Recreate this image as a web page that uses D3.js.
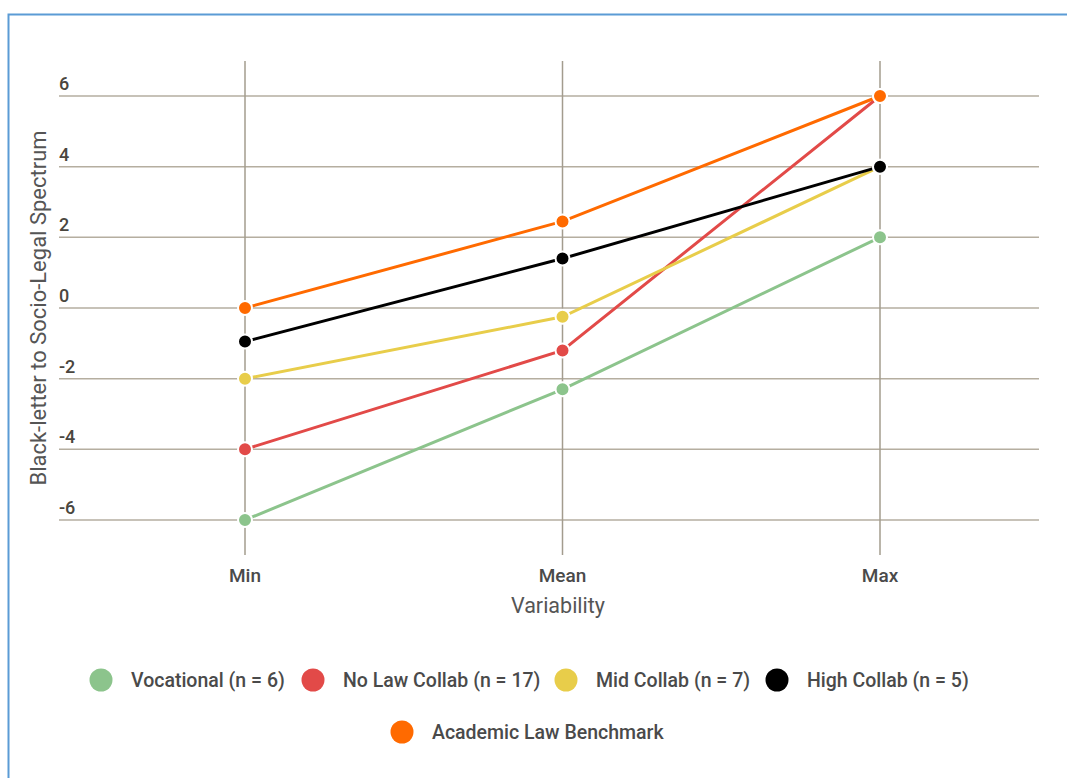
<!DOCTYPE html>
<html><head><meta charset="utf-8">
<script src="https://cdn.jsdelivr.net/npm/d3@7"></script>
<style>body{margin:0;background:#fff;font-family:Roboto,"Noto Sans",sans-serif;}</style>
</head><body><svg id="c" width="1067" height="778"></svg>
<script>
const categories = ["Min", "Mean", "Max"];
const seriesNames = ["Vocational (n = 6)", "No Law Collab (n = 17)", "Mid Collab (n = 7)", "High Collab (n = 5)", "Academic Law Benchmark"];
const seriesColors = ["#8cc48c", "#e24a48", "#e8cd4a", "#000000", "#ff6a00"];
const vocational = [-6, -2.3, 2];
const noLawCollab = [-4, -1.2, 6];
const midCollab = [-2, -0.25, 4];
const highCollab = [-0.95, 1.4, 4];
const academicBenchmark = [0, 2.45, 6];
const yTicks = [-6, -4, -2, 0, 2, 4, 6];
const seriesValues = [vocational, noLawCollab, midCollab, highCollab, academicBenchmark];
const drawOrder = [0, 1, 2, 3, 4];

const svg = d3.select("#c");
svg.append("path").attr("d","M8.5,778 L8.5,14.5 L1067,14.5").attr("fill","none").attr("stroke","#5b9bd5").attr("stroke-width",2);

const x = d3.scalePoint().domain(categories).range([245, 880]);
const y = d3.scaleLinear().domain([-6, 6]).range([520, 96]);

const grid = svg.append("g");
grid.selectAll("line.h").data(yTicks).join("line")
  .attr("x1", 59).attr("x2", 1039)
  .attr("y1", d => y(d)).attr("y2", d => y(d))
  .attr("stroke", "#b5aea0").attr("stroke-width", 1.5);
grid.selectAll("line.v").data(categories).join("line")
  .attr("x1", d => x(d)).attr("x2", d => x(d))
  .attr("y1", 61).attr("y2", 555)
  .attr("stroke", "#a39c8e").attr("stroke-width", 1.5);

svg.append("g").selectAll("text").data(yTicks).join("text")
  .attr("x", 59).attr("y", d => y(d) - 6)
  .attr("font-size", 18).attr("font-weight", 500).attr("fill", "#4a463e")
  .text(d => d);

svg.append("g").selectAll("text").data(categories).join("text")
  .attr("x", d => x(d)).attr("y", 582).attr("text-anchor", "middle")
  .attr("font-size", 19).attr("font-weight", 500).attr("fill", "#4a4a4a")
  .text(d => d);

svg.append("text").attr("x", 558).attr("y", 613).attr("text-anchor", "middle")
  .attr("font-size", 21.5).attr("fill", "#555").text("Variability");

svg.append("text").attr("transform", "translate(46,308) rotate(-90)").attr("text-anchor", "middle")
  .attr("font-size", 22).attr("fill", "#555").text("Black-letter to Socio-Legal Spectrum");

const line = d3.line().x((d, i) => x(categories[i])).y(d => y(d));
const series = svg.append("g");
drawOrder.forEach(si => {
  series.append("path").attr("d", line(seriesValues[si])).attr("fill", "none")
    .attr("stroke", seriesColors[si]).attr("stroke-width", 3);
});
drawOrder.forEach(si => {
  series.append("g").selectAll("circle").data(seriesValues[si]).join("circle")
    .attr("cx", (d, i) => x(categories[i])).attr("cy", d => y(d)).attr("r", 7)
    .attr("fill", seriesColors[si]).attr("stroke", "#fff").attr("stroke-width", 2);
});

const legendPos = [[101,680],[313,680],[566,680],[777,680],[402,732]];
const lg = svg.append("g");
seriesNames.forEach((n, i) => {
  const [lx, ly] = legendPos[i];
  lg.append("circle").attr("cx", lx).attr("cy", ly).attr("r", 11.5).attr("fill", seriesColors[i]);
  lg.append("text").attr("x", lx + 30).attr("y", ly + 7).attr("font-size", 19.5)
    .attr("fill", "#4a4a4a").attr("font-weight", 500).text(n);
});
</script></body></html>
